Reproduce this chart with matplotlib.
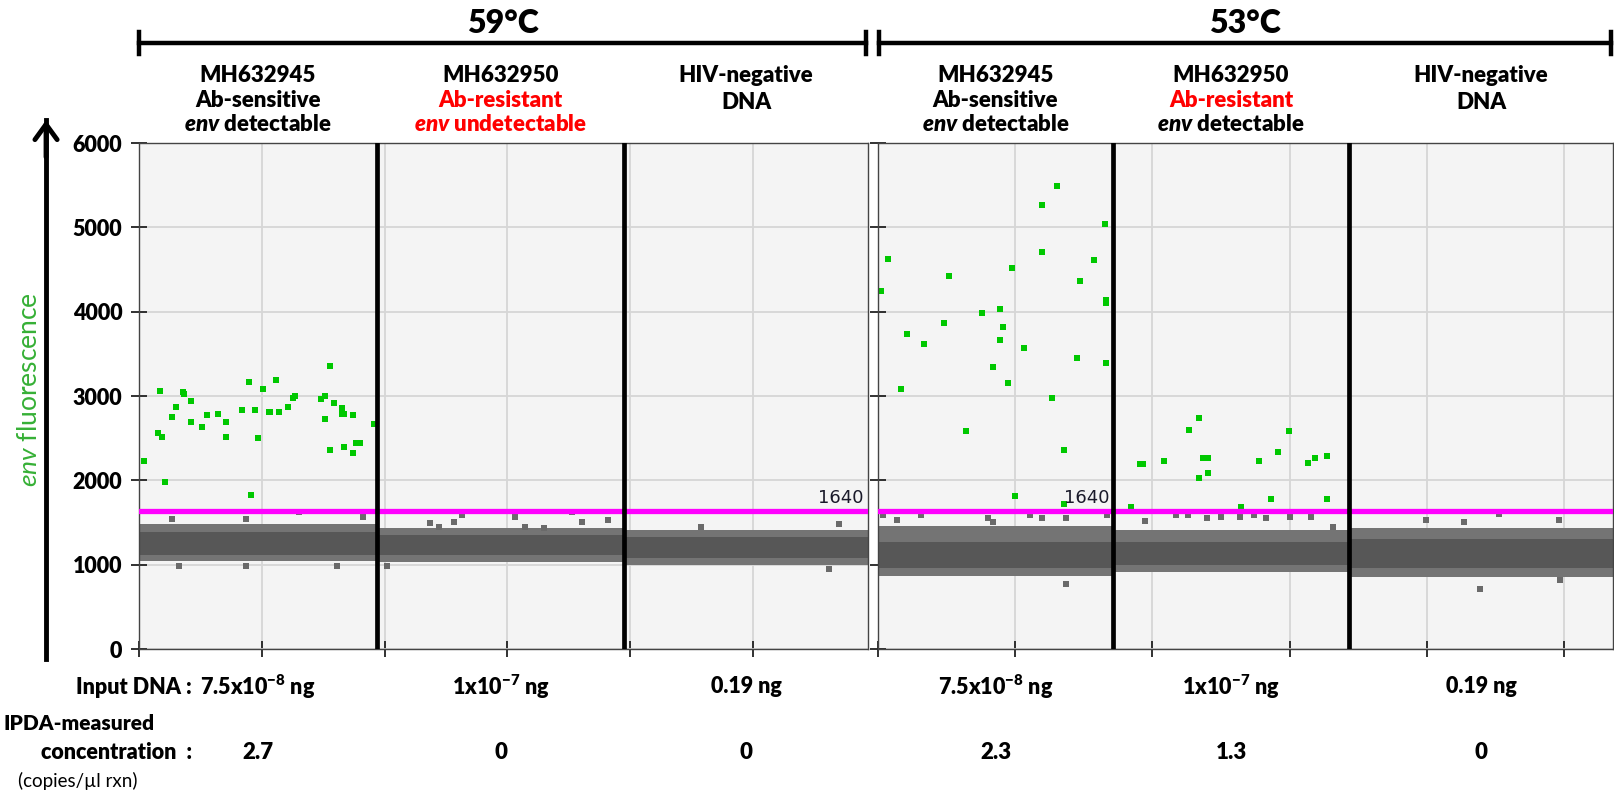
import matplotlib.pyplot as plt
from matplotlib.patches import FancyArrowPatch
from matplotlib.transforms import blended_transform_factory

# --- Fonts ---
plt.rcParams['font.family'] = ['Lato', 'DejaVu Sans']
plt.rcParams['mathtext.fontset'] = 'custom'
plt.rcParams['mathtext.rm'] = 'Lato:weight=heavy'
plt.rcParams['mathtext.bf'] = 'Lato:weight=heavy'
plt.rcParams['mathtext.it'] = 'Lato:style=italic:weight=heavy'
plt.rcParams['mathtext.sf'] = 'Lato:style=italic'
BOLD = 'heavy'

# --- Data (event number / amplitude) ---
temps = ['59°C', '53°C']

# well boundaries along the event axis
wells_59 = [0, 9690, 19750, 29680]
wells_53 = [0, 8560, 17170, 26790]

threshold = 1640

# negative droplet cloud per well: outer band and darker core
band_lo_59 = [1040, 1030, 1000]
band_hi_59 = [1480, 1440, 1415]
core_lo_59 = [1120, 1110, 1080]
core_hi_59 = [1390, 1350, 1330]

band_lo_53 = [870, 910, 860]
band_hi_53 = [1455, 1415, 1435]
core_lo_53 = [960, 995, 960]
core_hi_53 = [1270, 1270, 1310]

# stray negative droplets outside the dense band
neg_59_ev = [1340, 4360, 6520, 9120, 1630, 4360, 8060,
             10100, 11850, 12220, 12830, 13150, 15310, 17630, 19100, 15720, 16490, 18040,
             22890, 28500, 28100]
neg_59_amp = [1545, 1545, 1620, 1565, 990, 990, 990,
              985, 1495, 1445, 1505, 1595, 1570, 1620, 1525, 1445, 1430, 1505,
              1445, 1485, 950]

neg_53_ev = [180, 1570, 4010, 5540, 5980, 6850, 8350, 6850, 690, 4190,
             9730, 10860, 11300, 11990, 12500, 13190, 13700, 14140, 15010, 15780, 16580,
             19970, 21350, 22630, 24820, 21940, 24850]
neg_53_amp = [1585, 1585, 1550, 1585, 1550, 1550, 1585, 775, 1530, 1510,
              1515, 1585, 1585, 1550, 1570, 1570, 1585, 1550, 1570, 1570, 1450,
              1530, 1510, 1600, 1530, 715, 815]

# positive (env) droplets
pos_59_ev = [200, 770, 860, 940, 1060, 1340, 1510, 1790, 1830, 2120,
             2120, 2560, 2770, 3220, 3540, 3540, 4190, 4480, 4560, 4720,
             4850, 5050, 5290, 5330, 5580, 5700, 6070, 6270, 6350, 7410,
             7570, 7570, 7780, 7780, 7940, 8270, 8270, 8350, 8350, 8710,
             8710, 8840, 9000, 9570]
pos_59_amp = [2230, 2560, 3060, 2520, 1980, 2750, 2870, 3050, 3020, 2940,
              2690, 2630, 2770, 2790, 2690, 2520, 2830, 3170, 1830, 2830,
              2500, 3080, 2810, 2810, 3190, 2810, 2870, 2980, 3000, 2960,
              3000, 2730, 3360, 2360, 2920, 2860, 2790, 2790, 2400, 2770,
              2330, 2440, 2440, 2670]

pos_53_ev = [110, 360, 840, 1060, 1680, 2400, 2590, 3210, 3790, 4190,
             4450, 4450, 4560, 4740, 4880, 4990, 5320, 5980, 5980, 6340,
             6520, 6780, 6780, 7250, 7360, 7870, 8270, 8290, 8310, 8290,
             9220, 9550, 9660, 10420, 11330, 11700, 11700, 11840, 12030, 12030,
             13230, 13880, 14320, 14580, 14980, 15670, 15920, 16360, 16360]
pos_53_amp = [4250, 4630, 3080, 3740, 3620, 3860, 4420, 2580, 3990, 3350,
              4030, 3660, 3820, 3160, 4520, 1815, 3570, 5270, 4710, 2975,
              5495, 2355, 1715, 3450, 4360, 4610, 5040, 4140, 4100, 3390,
              1690, 2190, 2190, 2230, 2600, 2745, 2024, 2270, 2270, 2086,
              1690, 2230, 1776, 2333, 2580, 2208, 2271, 2290, 1776]

# --- Labels ---
RED = '#ff0000'
ENV = r'$\mathit{env}$'
labels_59 = [
    [('MH632945', 'k'), ('Ab-sensitive', 'k'), (ENV + ' detectable', 'k')],
    [('MH632950', 'k'), ('Ab-resistant', RED), (ENV + ' undetectable', RED)],
    [('HIV-negative', 'k'), ('DNA', 'k')],
]
labels_53 = [
    [('MH632945', 'k'), ('Ab-sensitive', 'k'), (ENV + ' detectable', 'k')],
    [('MH632950', 'k'), ('Ab-resistant', RED), (ENV + ' detectable', 'k')],
    [('HIV-negative', 'k'), ('DNA', 'k')],
]
input_dna = [r'7.5x10$^{-8}$ ng', r'1x10$^{-7}$ ng', '0.19 ng']
conc_59 = ['2.7', '0', '0']
conc_53 = ['2.3', '1.3', '0']


def draw_plate(ax, wells, b_lo, b_hi, c_lo, c_hi, neg_ev, neg_amp,
               pos_ev, pos_amp, label_x, labels, conc, show_yticks):
    ax.set_facecolor('#f4f4f4')
    ax.set_xlim(0, wells[-1])
    ax.set_ylim(0, 6000)
    ax.set_xticks(range(0, wells[-1], 5000))
    ax.set_yticks(range(0, 7000, 1000))
    ax.grid(True, color='#d6d6d6', lw=1.3, zorder=0)
    ax.set_axisbelow(True)
    ax.set_xticklabels([])
    if show_yticks:
        ax.set_yticklabels([str(v) for v in range(0, 7000, 1000)],
                           fontsize=15.5, fontweight=BOLD)
    else:
        ax.set_yticklabels([])
    ax.tick_params(axis='both', direction='inout', length=12, width=1.3,
                   color='#222222', pad=6)
    for s in ax.spines.values():
        s.set_color('#444444')
        s.set_linewidth(1.0)

    # negative droplet band per well
    for i in range(len(wells) - 1):
        xs = [wells[i], wells[i + 1]]
        ax.fill_between(xs, b_lo[i], b_hi[i], color='#747474', lw=0, zorder=1.5)
        ax.fill_between(xs, c_lo[i], c_hi[i], color='#575757', lw=0, zorder=1.6)
    ax.scatter(neg_ev, neg_amp, s=15, marker='s', color='#6a6a6a', lw=0, zorder=2)
    ax.scatter(pos_ev, pos_amp, s=15, marker='s', color='#00c800', lw=0, zorder=2.5)

    ax.axhline(threshold, color='#ff00ff', lw=3.8, zorder=3)
    ax.text(label_x, threshold + 45, str(threshold), family='DejaVu Sans',
            fontsize=13, color='#1a1a2a', ha='right', va='bottom', zorder=5)
    for w in wells[1:-1]:
        ax.axvline(w, color='black', lw=3.4, zorder=4)

    trans = blended_transform_factory(ax.transData, ax.transAxes)
    for i in range(len(wells) - 1):
        cx = (wells[i] + wells[i + 1]) / 2
        lines = labels[i]
        if len(lines) == 3:
            ys = [1.134, 1.085, 1.0375]
        else:
            ys = [1.134, 1.08]
        for (txt, col), y in zip(lines, ys):
            ax.text(cx, y, txt, transform=trans, ha='center', va='center',
                    fontsize=16, fontweight=BOLD, color=col)
        ax.text(cx, -0.075, input_dna[i], transform=trans, ha='center',
                va='center', fontsize=15.5, fontweight=BOLD)
        ax.text(cx, -0.205, conc[i], transform=trans, ha='center',
                va='center', fontsize=16, fontweight=BOLD)


fig = plt.figure(figsize=(16.15, 7.99), dpi=100)
ax59 = fig.add_axes([0.0861, 0.1877, 0.4514, 0.6333])
ax53 = fig.add_axes([0.5437, 0.1877, 0.4551, 0.6333])

draw_plate(ax59, wells_59, band_lo_59, band_hi_59, core_lo_59, core_hi_59,
           neg_59_ev, neg_59_amp, pos_59_ev, pos_59_amp, 29480,
           labels_59, conc_59, True)
draw_plate(ax53, wells_53, band_lo_53, band_hi_53, core_lo_53, core_hi_53,
           neg_53_ev, neg_53_amp, pos_53_ev, pos_53_amp, 8420,
           labels_53, conc_53, False)

# --- Temperature brackets ---
for temp, (x0, x1) in zip(temps, [(0.0861, 0.5365), (0.5443, 0.9975)]):
    fig.add_artist(plt.Line2D([x0, x1], [0.946, 0.946], color='black', lw=3.2))
    for x in (x0, x1):
        fig.add_artist(plt.Line2D([x, x], [0.932, 0.960], color='black', lw=3.2))
    fig.text((x0 + x1) / 2, 0.971, temp, ha='center', va='center',
             fontsize=23, fontweight=BOLD)

# --- y axis arrow and label ---
fig.add_artist(plt.Line2D([0.0285, 0.0285], [0.175, 0.85], color='black', lw=3.5))
fig.patches.append(FancyArrowPatch(
    (0.0285, 0.80), (0.0285, 0.853), transform=fig.transFigure,
    arrowstyle='->,head_length=0.55,head_width=0.4', mutation_scale=20,
    color='black', lw=3.5))
fig.text(0.018, 0.512, r'$\mathsf{env}$ fluorescence', rotation=90,
         ha='center', va='center', fontsize=19, color='#36b036')

# --- Row headers at the bottom ---
fig.text(0.1190, 0.140, 'Input DNA :', ha='right', va='center',
         fontsize=15.5, fontweight=BOLD)
fig.text(0.0490, 0.095, 'IPDA-measured', ha='center', va='center',
         fontsize=15, fontweight=BOLD)
fig.text(0.1190, 0.0588, 'concentration  :', ha='right', va='center',
         fontsize=15.5, fontweight=BOLD)
fig.text(0.048, 0.0225, '(copies/µl rxn)', ha='center', va='center',
         fontsize=13.5)

fig.savefig('out.png', dpi=100)
